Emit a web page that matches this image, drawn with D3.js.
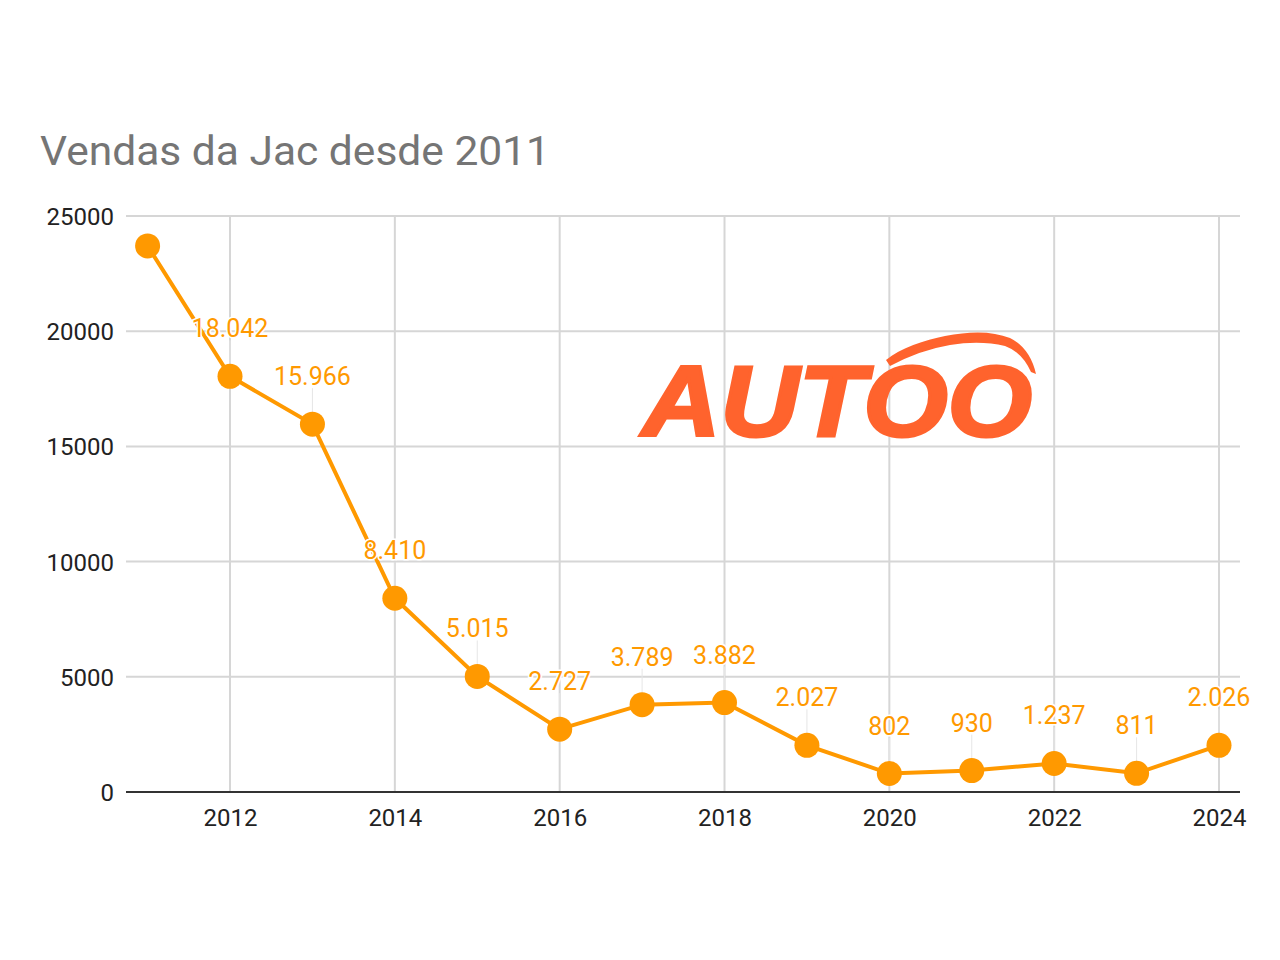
<!DOCTYPE html>
<html><head><meta charset="utf-8">
<script src="https://cdn.jsdelivr.net/npm/d3@7"></script>
<style>body{margin:0;background:#fff}svg{display:block}</style>
</head><body>
<svg id="c" width="1280" height="960"></svg>
<script>
const years = [2011,2012,2013,2014,2015,2016,2017,2018,2019,2020,2021,2022,2023,2024];
const sales = [23700,18042,15966,8410,5015,2727,3789,3882,2027,802,930,1237,811,2026];
const labels = [null,"18.042","15.966","8.410","5.015","2.727","3.789","3.882","2.027","802","930","1.237","811","2.026"];
const yTicks = [0,5000,10000,15000,20000,25000];
const xTicks = [2012,2014,2016,2018,2020,2022,2024];
const title = "Vendas da Jac desde 2011";

const svg = d3.select("#c");
const left = 126, right = 1240;
const x = d3.scaleLinear().domain([2011,2024]).range([147.6,1219]);
const y = d3.scaleLinear().domain([0,25000]).range([792,216]);
const font = "Roboto, 'Noto Sans', Arial, sans-serif";

svg.append("text").attr("x",40).attr("y",165).attr("font-family",font)
  .attr("font-size",41).attr("fill","#757575")
  .attr("textLength",510).attr("lengthAdjust","spacingAndGlyphs").text(title);

// horizontal grid
svg.append("g").selectAll("line").data(yTicks.filter(d=>d>0)).join("line")
  .attr("x1",left).attr("x2",right).attr("y1",d=>y(d)).attr("y2",d=>y(d))
  .attr("stroke","#d6d6d6").attr("stroke-width",2);
// vertical grid
svg.append("g").selectAll("line").data(xTicks).join("line")
  .attr("x1",d=>x(d)).attr("x2",d=>x(d)).attr("y1",216).attr("y2",792)
  .attr("stroke","#d6d6d6").attr("stroke-width",2);

// logo
const logo = svg.append("g");
logo.append("text").attr("x",642).attr("y",436).attr("font-family","'Liberation Sans', Arial, sans-serif")
  .attr("font-weight","bold").attr("font-style","italic").attr("font-size",100)
  .attr("textLength",390).attr("lengthAdjust","spacingAndGlyphs")
  .attr("fill","#FF632D").attr("stroke","#FF632D").attr("stroke-width",3).text("AUTOO");
logo.append("path").attr("d","M886,360 C900,348 925,340 945,336 Q985,328 1010,338 Q1030,348 1036,374 L1031,372 Q1022,352 1005,346 Q980,340 950,345 Q920,350 890,366 Z")
  .attr("fill","#FF632D");

// baseline
svg.append("line").attr("x1",left).attr("x2",right).attr("y1",792).attr("y2",792)
  .attr("stroke","#333").attr("stroke-width",2);

// axes labels
const yAxis = d3.axisLeft(y).tickValues(yTicks).tickFormat(d3.format("d")).tickSize(0).tickPadding(0);
svg.append("g").attr("transform","translate(114,0)").call(yAxis)
  .call(g=>g.select(".domain").remove())
  .call(g=>g.selectAll("text").attr("font-family",font).attr("font-size",24).attr("fill","#222").attr("dy","0.35em"));
const xAxis = d3.axisBottom(x).tickValues(xTicks).tickFormat(d3.format("d")).tickSize(0).tickPadding(0);
svg.append("g").attr("transform","translate(0,809)").call(xAxis)
  .call(g=>g.select(".domain").remove())
  .call(g=>g.selectAll("text").attr("font-family",font).attr("font-size",24).attr("fill","#222").attr("dy","0.71em"));

const data = years.map((yr,i)=>({yr, v:sales[i], l:labels[i]}));

// stems
svg.append("g").selectAll("line").data(data.filter(d=>d.l)).join("line")
  .attr("x1",d=>x(d.yr)).attr("x2",d=>x(d.yr)).attr("y1",d=>y(d.v)-36).attr("y2",d=>y(d.v)-12)
  .attr("stroke","#e6e6e6").attr("stroke-width",1);

// line
const color = "#FF9900";
svg.append("path").datum(data).attr("fill","none").attr("stroke",color).attr("stroke-width",4)
  .attr("d",d3.line().x(d=>x(d.yr)).y(d=>y(d.v)));
svg.append("g").selectAll("circle").data(data).join("circle")
  .attr("cx",d=>x(d.yr)).attr("cy",d=>y(d.v)).attr("r",12.5).attr("fill",color);

// labels
svg.append("g").selectAll("text").data(data.filter(d=>d.l)).join("text")
  .attr("x",d=>x(d.yr)).attr("y",d=>y(d.v)-39).attr("text-anchor","middle")
  .attr("font-family",font).attr("font-size",25).attr("fill",color)
  .attr("stroke","#fff").attr("stroke-width",3).attr("paint-order","stroke")
  .text(d=>d.l);
</script>
</body></html>
